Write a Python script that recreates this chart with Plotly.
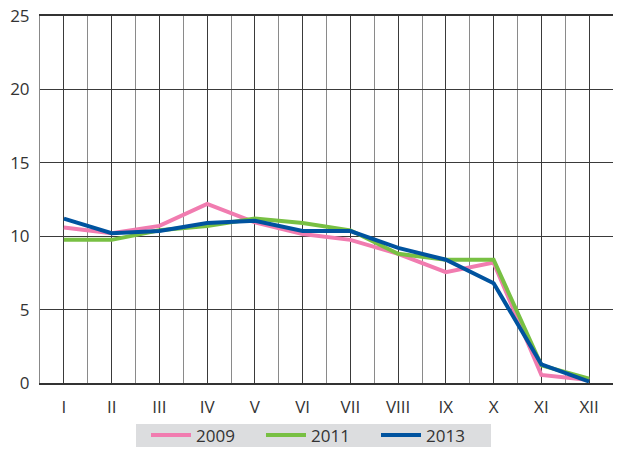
import plotly.graph_objects as go

months = ["I", "II", "III", "IV", "V", "VI", "VII", "VIII", "IX", "X", "XI", "XII"]
s2009 = [10.6, 10.2, 10.7, 12.2, 10.95, 10.15, 9.75, 8.8, 7.55, 8.2, 0.55, 0.2]
s2011 = [9.75, 9.75, 10.4, 10.7, 11.2, 10.9, 10.4, 8.8, 8.4, 8.4, 1.2, 0.3]
s2013 = [11.2, 10.2, 10.35, 10.9, 11.05, 10.35, 10.35, 9.2, 8.4, 6.8, 1.27, 0.1]
y_ticks = [0, 5, 10, 15, 20, 25]

series = [("2009", s2009, "#f17cb0"), ("2011", s2011, "#78c043"), ("2013", s2013, "#00539f")]

x = list(range(len(months)))
fig = go.Figure()
for name, vals, col in series:
    fig.add_trace(go.Scatter(x=x, y=vals, name=name, mode="lines",
                             line=dict(color=col, width=4)))

fig.add_shape(type="rect", xref="paper", yref="paper",
              x0=(136 - 40) / 573, x1=(491 - 40) / 573,
              y0=-(447 - 383) / 367, y1=-(424 - 383) / 367,
              fillcolor="#dcdddf", line=dict(width=0), layer="below")

fig.update_layout(
    width=622, height=451,
    margin=dict(l=40, r=9, t=16, b=68),
    paper_bgcolor="white", plot_bgcolor="white",
    font=dict(family="Open Sans", size=17, color="#333333"),
    showlegend=True,
    legend=dict(orientation="h", xref="container", yref="container",
                x=146 / 622, xanchor="left",
                y=1 - 435.5 / 451, yanchor="middle",
                bgcolor="rgba(0,0,0,0)", font=dict(size=17, color="#333333"),
                entrywidth=60, entrywidthmode="pixels", itemwidth=40, tracegroupgap=0),
)
fig.update_xaxes(
    range=[-0.5, 11.5], tickmode="array", tickvals=x, ticktext=months,
    showgrid=True, gridcolor="#3a3a3a", gridwidth=1,
    minor=dict(tickmode="linear", tick0=-0.5, dtick=1, showgrid=True, gridcolor="#8a8a8a", gridwidth=1),
    showline=True, linecolor="#333333", linewidth=1.5, mirror=True,
    ticks="", zeroline=False, automargin=False, ticklabelstandoff=8,
    tickfont=dict(size=17),
)
fig.update_yaxes(
    range=[0, 25], tickmode="array", tickvals=y_ticks,
    showgrid=True, gridcolor="#3a3a3a", gridwidth=1,
    showline=True, linecolor="#888888", linewidth=1, mirror=False,
    ticks="", zeroline=False, automargin=False, ticklabelstandoff=6,
    tickfont=dict(size=17),
)
fig.write_html("out.html", config={"displayModeBar": False},
               post_script="document.body.style.margin='0';document.body.style.overflow='hidden';")
